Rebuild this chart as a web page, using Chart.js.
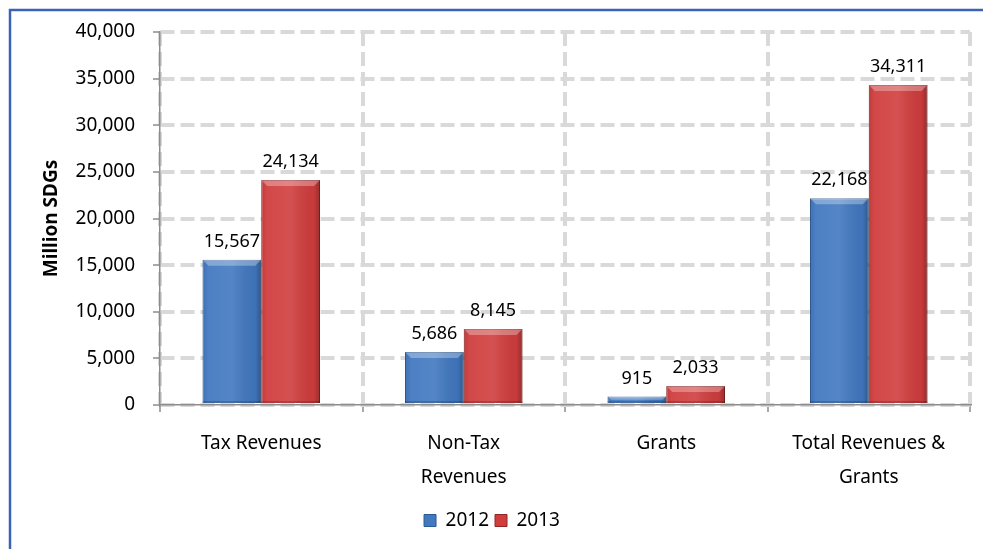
<!DOCTYPE html>
<html lang="en">
<head>
    <meta charset="UTF-8">
    <title>Revenues and Grants</title>
    <script src="https://cdn.jsdelivr.net/npm/chart.js"></script>
    <style>
        body {
            margin: 0;
            padding: 0;
            background-color: #ffffff;
        }

        #wrap {
            position: relative;
            width: 983px;
            height: 549px;
        }
    </style>
</head>
<body>
    <div id="wrap">
        <canvas id="chart" width="983" height="549"></canvas>
    </div>

    <script>
        const categories = [
            'Tax Revenues',
            ['Non-Tax', 'Revenues'],
            'Grants',
            ['Total Revenues &', 'Grants']
        ];
        const values2012 = [15567, 5686, 915, 22168];
        const values2013 = [24134, 8145, 2033, 34311];
        const seriesNames = ['2012', '2013'];
        const yTicks = [0, 5000, 10000, 15000, 20000, 25000, 30000, 35000, 40000];

        const fontFamily = "'Noto Sans', 'Liberation Sans', sans-serif";

        function fmt(v) {
            return v.toLocaleString('en-US');
        }

        // blue frame on the left and top edges
        const framePlugin = {
            id: 'frame',
            beforeDraw(chart) {
                const ctx = chart.ctx;
                ctx.save();
                ctx.strokeStyle = '#3b63b3';
                ctx.lineWidth = 2.5;
                ctx.beginPath();
                ctx.moveTo(10, chart.height + 2);
                ctx.lineTo(10, 10);
                ctx.lineTo(chart.width + 2, 10);
                ctx.stroke();
                ctx.restore();
            }
        };

        // shading over the bars to give them a rounded, bevelled look
        const shadePlugin = {
            id: 'shade',
            afterDatasetsDraw(chart) {
                const ctx = chart.ctx;
                chart.data.datasets.forEach((ds, i) => {
                    const meta = chart.getDatasetMeta(i);
                    meta.data.forEach(bar => {
                        const left = bar.x - bar.width / 2;
                        const w = bar.width;
                        const top = bar.y;
                        const h = bar.base - bar.y;
                        const g = ctx.createLinearGradient(left, 0, left + w, 0);
                        g.addColorStop(0, 'rgba(0,0,0,0.08)');
                        g.addColorStop(0.1, 'rgba(255,255,255,0.06)');
                        g.addColorStop(0.5, 'rgba(255,255,255,0.1)');
                        g.addColorStop(0.9, 'rgba(0,0,0,0.05)');
                        g.addColorStop(1, 'rgba(0,0,0,0.28)');
                        ctx.save();
                        ctx.fillStyle = g;
                        ctx.fillRect(left, top, w, h);
                        const bevel = Math.min(6, h / 2);
                        ctx.fillStyle = 'rgba(255,255,255,0.3)';
                        ctx.beginPath();
                        ctx.moveTo(left, top);
                        ctx.lineTo(left + w, top);
                        ctx.lineTo(left + w - bevel, top + bevel);
                        ctx.lineTo(left + bevel, top + bevel);
                        ctx.closePath();
                        ctx.fill();
                        ctx.fillStyle = 'rgba(0,0,0,0.18)';
                        ctx.fillRect(left, bar.base - 2, w, 2);
                        ctx.restore();
                    });
                });
            }
        };

        // value labels above each bar
        const valueLabels = {
            id: 'valueLabels',
            afterDatasetsDraw(chart) {
                const ctx = chart.ctx;
                ctx.save();
                ctx.font = '18px ' + fontFamily;
                ctx.fillStyle = '#000';
                ctx.textAlign = 'center';
                ctx.textBaseline = 'bottom';
                chart.data.datasets.forEach((ds, i) => {
                    const meta = chart.getDatasetMeta(i);
                    meta.data.forEach((bar, j) => {
                        ctx.fillText(fmt(ds.data[j]), bar.x, bar.y - 9);
                    });
                });
                ctx.restore();
            }
        };

        const gridStyle = {
            color: '#d9d9d9',
            lineWidth: 4,
            tickLength: 7,
            tickColor: '#8c8c8c',
            tickWidth: 1.5,
            tickBorderDash: []
        };

        const ctx = document.getElementById('chart').getContext('2d');

        new Chart(ctx, {
            type: 'bar',
            data: {
                labels: categories,
                datasets: [
                    {
                        label: seriesNames[0],
                        data: values2012,
                        backgroundColor: '#4178c0',
                        borderColor: '#2c5a94',
                        borderWidth: 1,
                        categoryPercentage: 0.58,
                        barPercentage: 1.0
                    },
                    {
                        label: seriesNames[1],
                        data: values2013,
                        backgroundColor: '#d03d3d',
                        borderColor: '#8f2626',
                        borderWidth: 1,
                        categoryPercentage: 0.58,
                        barPercentage: 1.0
                    }
                ]
            },
            options: {
                responsive: false,
                animation: false,
                layout: {
                    padding: { left: 14, right: 13, top: 32, bottom: 9 }
                },
                plugins: {
                    tooltip: { enabled: false },
                    legend: {
                        position: 'bottom',
                        labels: {
                            color: '#000',
                            font: { family: fontFamily, size: 19 },
                            boxWidth: 12,
                            boxHeight: 12,
                            padding: 6
                        }
                    }
                },
                scales: {
                    x: {
                        grid: Object.assign({ offset: true }, gridStyle),
                        border: { color: '#8c8c8c', width: 1.5, dash: [14, 6] },
                        ticks: {
                            color: '#000',
                            font: { family: fontFamily, size: 19, lineHeight: 1.78 },
                            maxRotation: 0,
                            padding: 15
                        },
                        afterFit(scale) {
                            scale.height = 100;
                        }
                    },
                    y: {
                        min: 0,
                        max: 40000,
                        afterBuildTicks(scale) {
                            scale.ticks = yTicks.map(v => ({ value: v }));
                        },
                        grid: Object.assign({}, gridStyle),
                        border: { color: '#8c8c8c', width: 1.5, dash: [14, 6] },
                        ticks: {
                            color: '#000',
                            font: { family: fontFamily, size: 19 },
                            padding: 18,
                            callback: v => fmt(v)
                        },
                        title: {
                            display: true,
                            text: 'Million SDGs',
                            color: '#000',
                            font: { family: fontFamily, size: 19, weight: 'bold' },
                            padding: { top: 26, bottom: 0 }
                        },
                        afterFit(scale) {
                            scale.width = 146;
                        }
                    }
                }
            },
            plugins: [framePlugin, shadePlugin, valueLabels]
        });
    </script>
</body>
</html>
